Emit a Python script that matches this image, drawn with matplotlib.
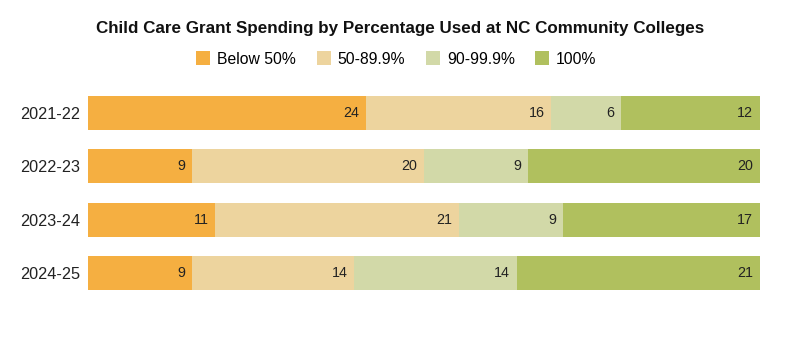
import matplotlib.pyplot as plt
from matplotlib.lines import Line2D

plt.rcParams['font.family'] = ['Liberation Sans', 'DejaVu Sans']

years = ['2021-22', '2022-23', '2023-24', '2024-25']
categories = ['Below 50%', '50-89.9%', '90-99.9%', '100%']
below_50 = [24, 9, 11, 9]
mid_50_90 = [16, 20, 21, 14]
mid_90_100 = [6, 9, 9, 14]
full_100 = [12, 20, 17, 21]
colors = ['#F5AF41', '#EDD49E', '#D2D9A8', '#B0C05E']

series = [below_50, mid_50_90, mid_90_100, full_100]

fig = plt.figure(figsize=(8, 3.37), dpi=100)
ax = fig.add_axes([88 / 800, 1 - 300 / 337, 672 / 800, 214 / 337])

left = [0] * len(years)
for vals, col in zip(series, colors):
    ax.barh(range(len(years)), vals, left=left, height=0.64, color=col, linewidth=0)
    for i, v in enumerate(vals):
        end = left[i] + v
        ax.annotate(str(v), xy=(end, i), xytext=(-5, 0), textcoords='offset points',
                    ha='right', va='center', fontsize=10.3, color='#222222')
    left = [a + b for a, b in zip(left, vals)]

ax.set_xlim(0, max(left))
ax.set_ylim(3.5, -0.5)
ax.set_yticks(range(len(years)))
ax.set_yticklabels(years, fontsize=11.7, color='#222222')
ax.tick_params(axis='y', length=0, pad=5.5)
ax.set_xticks([])
for s in ax.spines.values():
    s.set_visible(False)

fig.text(0.5, 1 - 28 / 337, 'Child Care Grant Spending by Percentage Used at NC Community Colleges',
         ha='center', va='center', fontsize=12.25, fontweight='bold', color='#111111')

handles = [Line2D([], [], marker='s', linestyle='', markersize=10, markerfacecolor=c,
                  markeredgewidth=0) for c in colors]
fig.legend(handles, categories, loc='center', bbox_to_anchor=(0.494, 1 - 59 / 337), ncol=4,
           frameon=False, fontsize=11.3, handletextpad=0.3, columnspacing=1.15,
           handlelength=1.2)

fig.savefig('out.png', dpi=100)
